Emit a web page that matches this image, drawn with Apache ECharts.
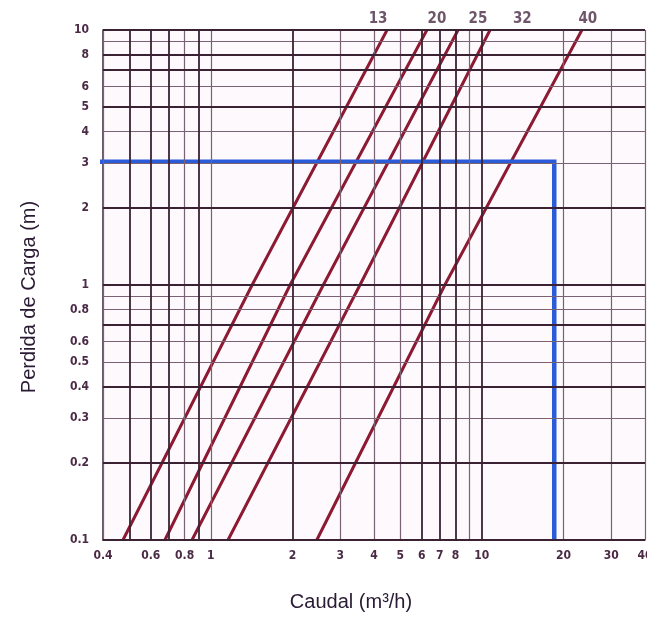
<!DOCTYPE html>
<html>
<head>
<meta charset="utf-8">
<script src="https://cdn.jsdelivr.net/npm/echarts@6/dist/echarts.min.js"></script>
<style>
html,body{margin:0;padding:0;background:#fff;}
#chart{width:647px;height:617px;}
</style>
</head>
<body>
<div id="chart"></div>
<script>
// ---- data ----
const meterSizes = ['13', '20', '25', '32', '40'];
const lossPoints = [0.1, 1, 10];                 // Perdida de carga (m) where each curve was read
const flowMeter1 = [0.474, 1.42, 4.47];          // Caudal (m3/h) at those losses
const flowMeter2 = [0.677, 1.96, 6.27];
const flowMeter3 = [0.852, 2.6, 8.17];
const flowMeter4 = [1.157, 3.55, 10.72];
const flowMeter5 = [2.46, 7.3, 23.4];
const meterLabelFlow = [4.14, 6.83, 9.68, 14.1, 24.6];
const meterLabelLoss = 10;
const selectionFlow = [0.375, 18.5, 18.5];
const selectionLoss = [3.04, 3.04, 0.1];
const xTickLabels = [0.4, 0.6, 0.8, 1, 2, 3, 4, 5, 6, 7, 8, 10, 20, 30, 40];
const yTickLabels = [0.1, 0.2, 0.3, 0.4, 0.5, 0.6, 0.8, 1, 2, 3, 4, 5, 6, 8, 10];
const xGridDark = [0.5, 0.6, 0.7, 0.9, 2, 6, 7, 8, 10];
const xGridLight = [0.4, 0.8, 1, 3, 4, 5, 9, 20, 30, 40];
const yGridDark = [0.1, 0.2, 0.4, 0.7, 1, 2, 5, 7, 8, 10];
const yGridLight = [0.3, 0.5, 0.6, 0.8, 0.9, 3, 4, 6, 9];

// ---- chart ----
const flows = [flowMeter1, flowMeter2, flowMeter3, flowMeter4, flowMeter5];
const RED = '#8c1a33';
const DARK = '#3a2233';
const LIGHT = '#7a6274';
const TXT = '#4a2a45';

function gridLines(vals, axisKey, color, width) {
  return vals.map(v => ({ [axisKey]: v, lineStyle: { color: color, width: width, type: 'solid' } }));
}

const series = [];
series.push({
  type: 'line', data: [], silent: true, z: 1,
  markLine: {
    silent: true, symbol: ['none', 'none'], label: { show: false }, animation: false,
    data: [].concat(
      gridLines(xGridLight, 'xAxis', LIGHT, 1.2),
      gridLines(yGridLight, 'yAxis', LIGHT, 1.2),
      gridLines(xGridDark, 'xAxis', DARK, 1.8),
      gridLines(yGridDark, 'yAxis', DARK, 1.8)
    )
  }
});
flows.forEach((f, i) => {
  series.push({
    type: 'line', name: meterSizes[i], z: 3,
    data: f.map((x, j) => [x, lossPoints[j]]),
    symbol: 'none', lineStyle: { color: RED, width: 3 }, animation: false
  });
});
series.push({
  type: 'line', name: 'sel', z: 4, clip: false,
  data: selectionFlow.map((x, j) => [x, selectionLoss[j]]),
  symbol: 'none', lineStyle: { color: '#2a5bd8', width: 4.5, join: 'miter' }, animation: false
});
series.push({
  type: 'scatter', z: 5, clip: false, symbolSize: 0.1,
  data: meterLabelFlow.map((x, i) => ({ value: [x, meterLabelLoss], name: meterSizes[i] })),
  label: {
    show: true, position: 'top', distance: 3, formatter: p => p.name,
    color: TXT, fontSize: 15, fontWeight: 'bold',
    fontFamily: 'Liberation Sans Narrow, DejaVu Sans Condensed, sans-serif'
  },
  animation: false
});

const chart = echarts.init(document.getElementById('chart'), null, { renderer: 'canvas' });
chart.setOption({
  backgroundColor: '#ffffff',
  animation: false,
  grid: { left: 103, right: 2, top: 30, bottom: 77, show: true, backgroundColor: '#fdf9fc', borderColor: DARK, borderWidth: 0, outerBoundsMode: 'none', containLabel: false },
  xAxis: {
    type: 'log', logBase: 10, min: 0.4, max: 40,
    name: 'Caudal (m³/h)', nameLocation: 'middle', nameGap: 52,
    nameTextStyle: { fontSize: 20, color: '#2a1a33', fontFamily: 'Liberation Sans, Arial, sans-serif', padding: [0, 46, 0, 0] },
    axisLine: { show: true, lineStyle: { color: DARK, width: 1.5 } },
    axisTick: { show: false },
    splitLine: { show: false },
    minorSplitLine: { show: false },
    axisLabel: {
      customValues: xTickLabels, margin: 10,
      formatter: v => String(+(+v).toPrecision(6)),
      color: TXT, fontSize: 12, fontWeight: 'bold',
      fontFamily: 'Liberation Sans Narrow, DejaVu Sans Condensed, sans-serif'
    }
  },
  yAxis: {
    type: 'log', logBase: 10, min: 0.1, max: 10,
    name: 'Perdida de Carga (m)', nameLocation: 'middle', nameGap: 64, nameRotate: 90,
    nameTextStyle: { fontSize: 20, color: '#2a1a33', fontFamily: 'Liberation Sans, Arial, sans-serif', padding: [0, 24, 0, 0] },
    axisLine: { show: true, lineStyle: { color: DARK, width: 1.5 } },
    axisTick: { show: false },
    splitLine: { show: false },
    axisLabel: {
      customValues: yTickLabels, margin: 14,
      formatter: v => String(+(+v).toPrecision(6)),
      color: TXT, fontSize: 12, fontWeight: 'bold',
      fontFamily: 'Liberation Sans Narrow, DejaVu Sans Condensed, sans-serif'
    }
  },
  series: series
});
</script>
</body>
</html>
